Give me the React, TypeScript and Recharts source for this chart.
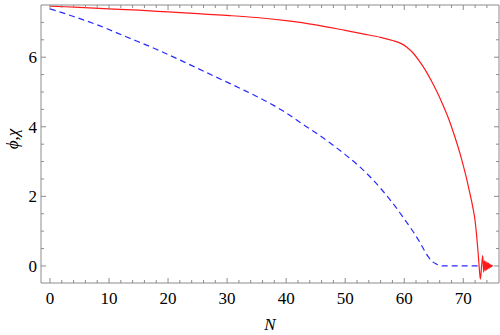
import { LineChart, Line, XAxis, YAxis } from 'recharts'

// phi (red, solid)
const phiN = [0, 5, 10, 15, 20, 25, 30, 35, 40, 45, 50, 53, 56, 58, 59.5, 60.5, 61.5, 62.5, 63.5, 64.5, 65.5, 66.5, 67.5, 68.5, 69.5, 70.5, 71.1, 71.6, 72.0, 72.3, 72.55, 72.75, 72.9, 73.1, 73.3, 73.45, 73.58, 73.7, 73.82, 73.94, 74.05, 74.16, 74.27, 74.38, 74.48, 74.58, 74.68, 74.78, 74.88, 75]
const phiV = [7.47, 7.43, 7.39, 7.35, 7.3, 7.25, 7.2, 7.14, 7.05, 6.93, 6.77, 6.67, 6.57, 6.48, 6.39, 6.28, 6.12, 5.9, 5.65, 5.35, 5.02, 4.65, 4.24, 3.75, 3.2, 2.55, 2.1, 1.7, 1.3, 0.8, 0.3, -0.15, -0.38, 0.0, 0.3, -0.18, 0.15, -0.14, 0.13, -0.12, 0.1, -0.09, 0.08, -0.07, 0.05, -0.04, 0.03, -0.02, 0.01, 0]

// chi (blue, dashed)
const chiN = [0, 4, 8, 13, 18, 23, 28, 33, 37.3, 40, 43, 45.5, 47.4, 50, 52, 54, 56, 58.7, 60, 61.5, 62.5, 63.2, 64, 64.6, 65.5, 66.6, 72.7]
const chiV = [7.39, 7.17, 6.93, 6.58, 6.23, 5.84, 5.44, 5.04, 4.67, 4.4, 4.05, 3.77, 3.54, 3.2, 2.92, 2.6, 2.23, 1.66, 1.35, 0.99, 0.72, 0.51, 0.28, 0.15, 0.05, 0, 0]

const xTicks = [0, 2, 4, 6, 8, 10, 12, 14, 16, 18, 20, 22, 24, 26, 28, 30, 32, 34, 36, 38, 40, 42, 44, 46, 48, 50, 52, 54, 56, 58, 60, 62, 64, 66, 68, 70, 72, 74]
const xLabels = [0, 10, 20, 30, 40, 50, 60, 70]
const yTicks = [0, 0.5, 1, 1.5, 2, 2.5, 3, 3.5, 4, 4.5, 5, 5.5, 6, 6.5, 7]
const yLabels = [0, 2, 4, 6]

const phiData = phiN.map((n, i) => ({ n, v: phiV[i] }))
const chiData = chiN.map((n, i) => ({ n, v: chiV[i] }))

const frame = '#8c8c8c'
const serif = "'Liberation Serif', 'Times New Roman', 'DejaVu Serif', serif"

const makeTick = (side: 'bottom' | 'top' | 'left' | 'right') => (props: any) => {
  const { x, y, payload } = props
  const val = payload.value
  const major = (side === 'bottom' || side === 'top' ? xLabels : yLabels).includes(val)
  const len = major ? 5 : 3
  if (side === 'bottom')
    return (
      <g>
        <line x1={x} y1={y} x2={x} y2={y - len} stroke={frame} />
        {major && <text x={x} y={y + 21} textAnchor="middle" fontFamily={serif} fontSize={17} fill="#000">{val}</text>}
      </g>
    )
  if (side === 'top') return <line x1={x} y1={y} x2={x} y2={y + len} stroke={frame} />
  if (side === 'left')
    return (
      <g>
        <line x1={x} y1={y} x2={x + len} y2={y} stroke={frame} />
        {major && <text x={x - 4} y={y + 6} textAnchor="end" fontFamily={serif} fontSize={17} fill="#000">{val}</text>}
      </g>
    )
  return <line x1={x} y1={y} x2={x - len} y2={y} stroke={frame} />
}

export default function App() {
  return (
    <div style={{ position: 'absolute', left: 0, top: 0, background: '#fff', fontFamily: serif }}>
      <LineChart width={500} height={335} margin={{ top: 4, right: 0, bottom: 51, left: 40 }} style={{ fontFamily: serif }}>
        <XAxis
          xAxisId="b" type="number" dataKey="n" domain={[-1.52, 76.05]} ticks={xTicks} interval={0}
          height={1} tickSize={0} tickMargin={0} tickLine={false} axisLine={{ stroke: frame }}
          tick={makeTick('bottom')} allowDataOverflow
          label={{
            content: () => (
              <text x={270} y={330} textAnchor="middle" fontFamily={serif} fontStyle="italic" fontSize={17} fill="#000">N</text>
            ),
          }}
        />
        <XAxis
          xAxisId="t" orientation="top" type="number" dataKey="n" domain={[-1.52, 76.05]} ticks={xTicks} interval={0}
          height={1} tickSize={0} tickMargin={0} tickLine={false} axisLine={{ stroke: frame }}
          tick={makeTick('top')} allowDataOverflow
        />
        <YAxis
          yAxisId="l" type="number" domain={[-0.49, 7.5]} ticks={yTicks} interval={0}
          width={1} tickSize={0} tickMargin={0} tickLine={false} axisLine={{ stroke: frame }}
          tick={makeTick('left')} allowDataOverflow
          label={{
            content: () => (
              <text x={18} y={139} transform="rotate(-90 18 139)" textAnchor="middle" fontFamily={serif} fontStyle="italic" fontSize={17} fill="#000">ϕ,χ</text>
            ),
          }}
        />
        <YAxis
          yAxisId="r" orientation="right" type="number" domain={[-0.49, 7.5]} ticks={yTicks} interval={0}
          width={1} tickSize={0} tickMargin={0} tickLine={false} axisLine={{ stroke: frame }}
          tick={makeTick('right')} allowDataOverflow
        />
        <Line xAxisId="b" yAxisId="l" data={chiData} dataKey="v" type="monotone" stroke="#2a2aff" strokeWidth={1.2} strokeDasharray="6 4" dot={false} isAnimationActive={false} />
        <Line xAxisId="b" yAxisId="l" data={phiData} dataKey="v" type="monotone" stroke="#ff1a1a" strokeWidth={1.2} dot={false} isAnimationActive={false} />
      </LineChart>
    </div>
  )
}
